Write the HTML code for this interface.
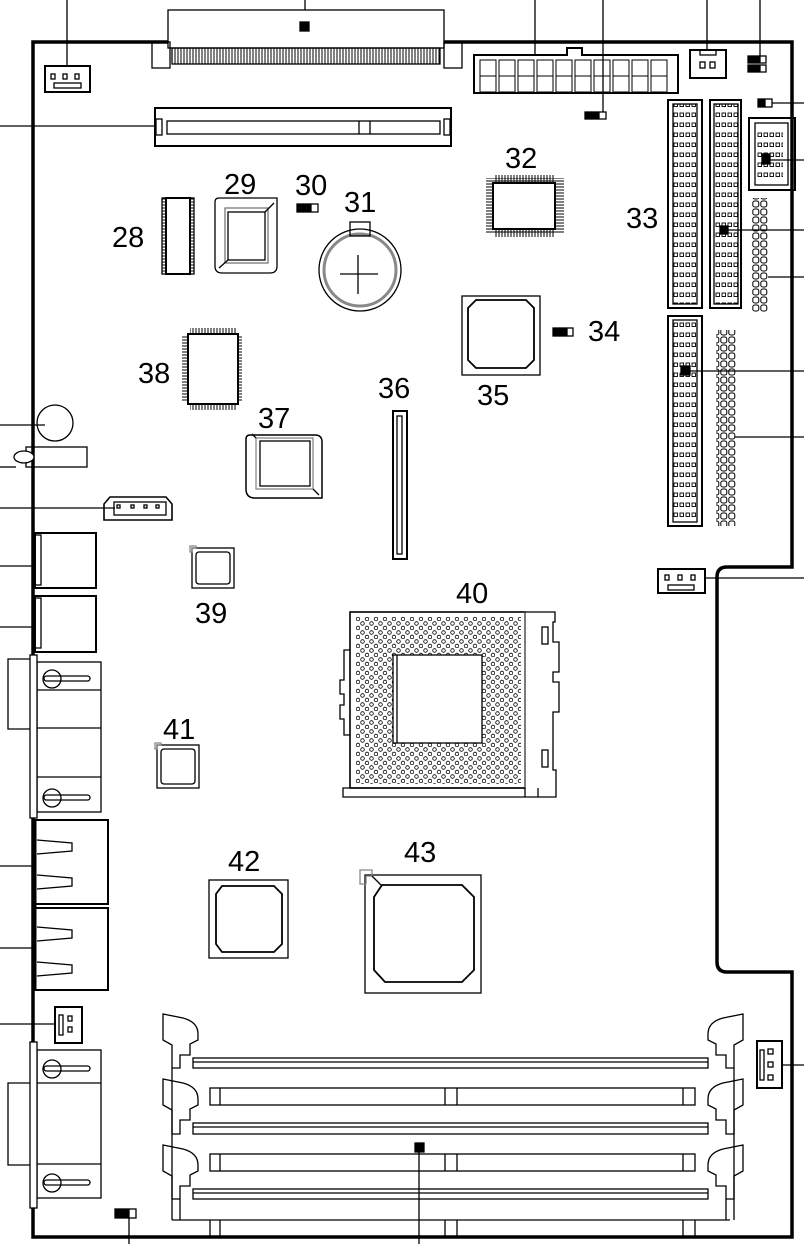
<!DOCTYPE html>
<html><head><meta charset="utf-8"><style>
html,body{margin:0;padding:0;background:#fff}
svg{display:block}
text{font-family:"Liberation Sans",sans-serif;font-size:29px;fill:#000}
</style></head><body>
<svg width="804" height="1244" viewBox="0 0 804 1244" xmlns="http://www.w3.org/2000/svg">
<defs>
<pattern id="pins" x="0" y="0" width="9" height="9" patternUnits="userSpaceOnUse">
<circle cx="2.5" cy="2.5" r="1.8" fill="none" stroke="#000" stroke-width="0.8"/>
<circle cx="7" cy="7" r="1.8" fill="none" stroke="#000" stroke-width="0.8"/>
</pattern>
<pattern id="ide" x="0" y="0" width="12" height="10" patternUnits="userSpaceOnUse">
<rect x="2" y="3" width="3.5" height="3.5" fill="none" stroke="#000" stroke-width="0.9"/>
<rect x="8" y="3" width="3.5" height="3.5" fill="none" stroke="#000" stroke-width="0.9"/>
</pattern>
<pattern id="hdr" x="0" y="0" width="8" height="8" patternUnits="userSpaceOnUse">
<rect x="0.8" y="1" width="6" height="6" rx="2" fill="none" stroke="#000" stroke-width="1"/>
</pattern>
<pattern id="teeth" x="0" y="0" width="3" height="10" patternUnits="userSpaceOnUse">
<line x1="1" y1="0" x2="1" y2="10" stroke="#000" stroke-width="1"/>
</pattern>
<pattern id="qfpv" x="0" y="0" width="10" height="3" patternUnits="userSpaceOnUse">
<line x1="0" y1="1" x2="10" y2="1" stroke="#000" stroke-width="1"/>
</pattern>
</defs>
<g fill="none" stroke="#000" stroke-width="1.3">
<!-- board outline -->
<path d="M792,42 H33 V1237 H792 V972 H727 Q717,972 717,962 V577 Q717,567 727,567 H792 Z" stroke-width="3.5"/>

<!-- callout lines -->
<line x1="67" y1="0" x2="67" y2="66"/>
<line x1="305" y1="0" x2="305" y2="28"/>
<line x1="535" y1="0" x2="535" y2="55"/>
<line x1="603" y1="0" x2="603" y2="112"/>
<line x1="707" y1="0" x2="707" y2="50"/>
<line x1="760" y1="0" x2="760" y2="56"/>
<line x1="0" y1="126" x2="155" y2="126"/>
<line x1="772" y1="103" x2="804" y2="103"/>
<line x1="766" y1="160" x2="804" y2="160"/>
<line x1="725" y1="230" x2="804" y2="230"/>
<line x1="768" y1="277" x2="804" y2="277"/>
<line x1="686" y1="371" x2="804" y2="371"/>
<line x1="735" y1="437" x2="804" y2="437"/>
<line x1="705" y1="578" x2="804" y2="578"/>
<line x1="0" y1="425" x2="45" y2="425"/>
<line x1="0" y1="467" x2="16" y2="467"/>
<line x1="0" y1="508" x2="115" y2="508"/>
<line x1="0" y1="566" x2="35" y2="566"/>
<line x1="0" y1="627" x2="35" y2="627"/>
<line x1="0" y1="866" x2="35" y2="866"/>
<line x1="0" y1="948" x2="35" y2="948"/>
<line x1="0" y1="1024" x2="55" y2="1024"/>
<line x1="782" y1="1065" x2="804" y2="1065"/>
<line x1="129" y1="1218" x2="129" y2="1244"/>
<line x1="419" y1="1148" x2="419" y2="1244"/>

<!-- top-left fan -->
<rect x="45" y="66" width="45" height="26" stroke-width="2"/>
<rect x="54" y="83" width="27" height="5"/>
<rect x="51" y="74" width="4" height="5"/><rect x="63" y="74" width="4" height="5"/><rect x="75" y="74" width="4" height="5"/>

<!-- top slot connector -->
<rect x="168" y="10" width="276" height="38" fill="#fff"/>
<rect x="172" y="48" width="268" height="16" fill="url(#teeth)"/>
<rect x="152" y="42" width="18" height="26"/>
<rect x="444" y="42" width="18" height="26"/>
<rect x="300" y="22" width="9" height="9" fill="#000"/>

<!-- ATX power -->
<path d="M474,55 H567 V48 H582 V55 H678 V93 H474 Z" stroke-width="2"/>
<g stroke-width="1">
<rect x="480" y="60" width="16" height="16"/><rect x="499" y="60" width="16" height="16"/><rect x="518" y="60" width="16" height="16"/><rect x="537" y="60" width="16" height="16"/><rect x="556" y="60" width="16" height="16"/><rect x="575" y="60" width="16" height="16"/><rect x="594" y="60" width="16" height="16"/><rect x="613" y="60" width="16" height="16"/><rect x="632" y="60" width="16" height="16"/><rect x="651" y="60" width="16" height="16"/>
<rect x="480" y="76" width="16" height="16"/><rect x="499" y="76" width="16" height="16"/><rect x="518" y="76" width="16" height="16"/><rect x="537" y="76" width="16" height="16"/><rect x="556" y="76" width="16" height="16"/><rect x="575" y="76" width="16" height="16"/><rect x="594" y="76" width="16" height="16"/><rect x="613" y="76" width="16" height="16"/><rect x="632" y="76" width="16" height="16"/><rect x="651" y="76" width="16" height="16"/>
</g>
<!-- 2 pin -->
<rect x="690" y="50" width="36" height="28" stroke-width="2"/>
<rect x="700" y="50" width="16" height="5"/>
<rect x="700" y="62" width="5" height="6"/><rect x="710" y="62" width="5" height="6"/>
<!-- 2x3 jumper -->
<rect x="748" y="56" width="5" height="7" fill="#000"/><rect x="754" y="56" width="5" height="7" fill="#000"/><rect x="760" y="56" width="6" height="7"/>
<rect x="748" y="65" width="5" height="7" fill="#000"/><rect x="754" y="65" width="5" height="7" fill="#000"/><rect x="760" y="65" width="6" height="7"/>
<!-- jumper near power -->
<rect x="585" y="112" width="6" height="7" fill="#000"/><rect x="592" y="112" width="6" height="7" fill="#000"/><rect x="599" y="112" width="7" height="7"/>
<!-- jumper right -->
<rect x="758" y="99" width="6" height="8" fill="#000"/><rect x="765" y="99" width="7" height="8"/>

<!-- PCI slot -->
<rect x="155" y="108" width="296" height="38" stroke-width="2"/>
<rect x="167" y="121" width="273" height="13"/>
<line x1="359" y1="121" x2="359" y2="134"/><line x1="370" y1="121" x2="370" y2="134"/>
<rect x="156" y="119" width="6" height="16"/><rect x="444" y="119" width="6" height="16"/>

<!-- chip 28 -->
<rect x="162" y="198" width="32" height="76" fill="url(#qfpv)"/>
<rect x="166" y="198" width="24" height="76" fill="#fff" stroke-width="2"/>
<!-- chip 29 -->
<path d="M219,198 H277 V266 Q277,273 270,273 H222 Q215,273 215,266 V202 Q215,198 219,198 Z"/>
<rect x="228" y="212" width="37" height="48"/><rect x="225" y="208" width="43" height="55" stroke="#777"/>
<line x1="265" y1="212" x2="274" y2="203"/><line x1="228" y1="260" x2="219" y2="268"/>
<!-- 30 jumper -->
<rect x="297" y="204" width="6" height="8" fill="#000"/><rect x="304" y="204" width="6" height="8" fill="#000"/><rect x="311" y="204" width="7" height="8"/>
<!-- 31 battery -->
<circle cx="360" cy="270" r="41"/>
<circle cx="360" cy="270" r="36" stroke="#888" stroke-width="3"/>
<rect x="350" y="222" width="20" height="14"/>
<line x1="340" y1="274" x2="378" y2="274"/><line x1="358" y1="255" x2="358" y2="294"/>
<!-- 32 chip -->
<rect x="486" y="178" width="78" height="56" fill="url(#qfpv)" stroke="none"/>
<rect x="494" y="175" width="60" height="62" fill="url(#teeth)" stroke="none"/>
<rect x="493" y="183" width="62" height="46" fill="#fff" stroke-width="2"/>
<!-- 33 IDE -->
<rect x="668" y="100" width="34" height="208" stroke-width="2"/>
<rect x="673" y="104" width="24" height="200" fill="url(#ide)"/>
<rect x="710" y="100" width="31" height="208" stroke-width="2"/>
<rect x="714" y="104" width="24" height="200" fill="url(#ide)"/>
<rect x="720" y="226" width="8" height="8" fill="#000"/>
<!-- 10 pin header -->
<rect x="749" y="118" width="46" height="72" stroke-width="2"/>
<rect x="755" y="123" width="33" height="62"/>
<rect x="757" y="128" width="26" height="50" fill="url(#ide)" stroke="none"/>
<rect x="762" y="154" width="8" height="10" fill="#000"/>
<!-- pin header -->
<rect x="752" y="198" width="16" height="114" fill="url(#hdr)" stroke="none"/>
<!-- 35 -->
<rect x="462" y="296" width="78" height="79"/>
<path d="M476,300 H526 L534,308 V360 L526,368 H476 L468,360 V308 Z" stroke-width="1.8"/>
<!-- 34 jumper -->
<rect x="553" y="328" width="6" height="8" fill="#000"/><rect x="560" y="328" width="6" height="8" fill="#000"/><rect x="567" y="328" width="6" height="8"/>
<!-- 38 -->
<rect x="182" y="336" width="60" height="66" fill="url(#qfpv)" stroke="none"/>
<rect x="190" y="328" width="46" height="82" fill="url(#teeth)" stroke="none"/>
<rect x="188" y="334" width="50" height="70" fill="#fff" stroke-width="2"/>
<!-- 36 slot -->
<rect x="393" y="411" width="14" height="148" stroke-width="2"/>
<rect x="397" y="416" width="5" height="138"/>
<!-- 37 -->
<path d="M250,435 H315 Q322,435 322,442 V498 H255 Q246,498 246,489 V439 Q246,435 250,435 Z" stroke-width="1.5"/>
<rect x="260" y="441" width="50" height="45"/><rect x="256" y="438" width="57" height="51" stroke="#888"/>
<line x1="256" y1="438" x2="252" y2="434"/><line x1="313" y1="489" x2="319" y2="495"/>
<!-- buzzer, LED -->
<circle cx="55" cy="423" r="18"/>
<rect x="26" y="447" width="61" height="20"/>
<ellipse cx="24" cy="457" rx="10" ry="6" fill="#fff"/>
<!-- 4 pin -->
<path d="M110,497 H166 L172,504 V520 H104 V504 Z" stroke-width="1.6"/>
<rect x="114" y="502" width="52" height="13"/>
<rect x="117" y="505" width="3" height="3"/><rect x="131" y="505" width="3" height="3"/><rect x="144" y="505" width="3" height="3"/><rect x="156" y="505" width="3" height="3"/>
<!-- USB/LAN -->
<rect x="35" y="533" width="61" height="55" stroke-width="2"/><rect x="35" y="535" width="6" height="50"/>
<rect x="35" y="596" width="61" height="56" stroke-width="2"/><rect x="35" y="598" width="6" height="50"/>
<!-- VGA -->
<rect x="37" y="662" width="64" height="150"/>
<line x1="37" y1="690" x2="101" y2="690"/><line x1="37" y1="728" x2="101" y2="728"/><line x1="37" y1="777" x2="101" y2="777"/>
<path d="M30,659 H8 V729 H30" />
<rect x="30" y="655" width="7" height="163" fill="#fff"/>
<circle cx="52" cy="679" r="9"/><rect x="44" y="676" width="46" height="5" rx="2.5"/>
<circle cx="52" cy="798" r="9"/><rect x="44" y="795" width="46" height="5" rx="2.5"/>
<!-- 39 -->
<rect x="192" y="548" width="42" height="40"/><rect x="196" y="552" width="34" height="32" rx="3"/>
<path d="M190,546 h6 v2 h-4 v4 h-2 Z" stroke="#888"/>
<!-- 40 socket -->
<rect x="350" y="612" width="175" height="176" stroke-width="1.6"/>
<rect x="356" y="617" width="165" height="167" fill="url(#pins)" stroke="none"/>
<rect x="393" y="655" width="89" height="88" fill="#fff"/>
<line x1="397" y1="655" x2="397" y2="743"/>
<line x1="525" y1="612" x2="525" y2="788" stroke="#888"/>
<path d="M525,612 H555 V622 H553 V642 H559 V672 H553 V682 H559 V712 H553 V770 H556 V797 H343 V788 H525"/>
<line x1="525" y1="788" x2="525" y2="797"/><line x1="538" y1="788" x2="538" y2="797"/>
<rect x="542" y="627" width="6" height="17"/><rect x="542" y="750" width="6" height="17"/>
<path d="M350,650 H344 V680 H340 V694 H344 V705 H340 V719 H344 V735 H350"/>
<!-- 41 -->
<rect x="157" y="745" width="42" height="43"/><rect x="161" y="749" width="34" height="35" rx="3"/>
<path d="M155,743 h6 v2 h-4 v4 h-2 Z" stroke="#888"/>
<!-- 42 -->
<rect x="209" y="880" width="79" height="78"/>
<path d="M222,886 H274 L282,894 V944 L274,952 H222 L216,944 V894 Z" stroke-width="1.8"/>
<!-- 43 -->
<rect x="365" y="875" width="116" height="118"/>
<path d="M382,885 H462 L474,897 V970 L462,982 H385 L374,970 V897 Z" stroke-width="1.8"/>
<path d="M360,870 h12 v6 h-6 v8 h-6 Z" stroke="#888"/>
<line x1="372" y1="876" x2="382" y2="886"/>
<!-- USB -->
<rect x="35" y="820" width="73" height="84" stroke-width="2"/>
<path d="M37,840 L72,843 V851 L37,854"/><path d="M37,875 L72,878 V886 L37,889"/>
<rect x="35" y="908" width="73" height="82" stroke-width="2"/>
<path d="M37,927 L72,930 V938 L37,941"/><path d="M37,962 L72,965 V973 L37,976"/>
<line x1="35" y1="820" x2="35" y2="990" stroke-width="3"/>
<!-- 2pin left bottom -->
<rect x="55" y="1007" width="27" height="36" stroke-width="2"/>
<rect x="59" y="1015" width="4" height="20"/><rect x="68" y="1016" width="4" height="5"/><rect x="68" y="1027" width="4" height="5"/>
<!-- serial 2 -->
<rect x="37" y="1050" width="64" height="148"/>
<line x1="37" y1="1083" x2="101" y2="1083"/><line x1="37" y1="1164" x2="101" y2="1164"/>
<path d="M30,1083 H8 V1165 H30"/>
<rect x="30" y="1042" width="7" height="166" fill="#fff"/>
<circle cx="52" cy="1069" r="9"/><rect x="44" y="1066" width="46" height="5" rx="2.5"/>
<circle cx="52" cy="1183" r="9"/><rect x="44" y="1180" width="46" height="5" rx="2.5"/>
<!-- jumper bottom -->
<rect x="115" y="1209" width="6" height="9" fill="#000"/><rect x="122" y="1209" width="6" height="9" fill="#000"/><rect x="129" y="1209" width="7" height="9"/>
<!-- DIMMs -->
<g>
<rect x="193" y="1058" width="515" height="10"/><line x1="193" y1="1062" x2="708" y2="1062"/>
<rect x="210" y="1088" width="485" height="17"/><line x1="220" y1="1088" x2="220" y2="1105"/><line x1="445" y1="1088" x2="445" y2="1105"/><line x1="457" y1="1088" x2="457" y2="1105"/><line x1="683" y1="1088" x2="683" y2="1105"/>
<rect x="193" y="1123" width="515" height="11"/><line x1="193" y1="1127" x2="708" y2="1127"/>
<rect x="210" y="1154" width="485" height="17"/><line x1="220" y1="1154" x2="220" y2="1171"/><line x1="445" y1="1154" x2="445" y2="1171"/><line x1="457" y1="1154" x2="457" y2="1171"/><line x1="683" y1="1154" x2="683" y2="1171"/>
<rect x="193" y="1189" width="515" height="10"/><line x1="193" y1="1193" x2="708" y2="1193"/>
<line x1="172" y1="1220" x2="730" y2="1220"/>
<line x1="210" y1="1220" x2="210" y2="1237"/><line x1="220" y1="1220" x2="220" y2="1237"/><line x1="445" y1="1220" x2="445" y2="1237"/><line x1="457" y1="1220" x2="457" y2="1237"/><line x1="683" y1="1220" x2="683" y2="1237"/><line x1="695" y1="1220" x2="695" y2="1237"/>
<path d="M163,1014 L183,1018 Q198,1022 198,1034 V1040 L190,1044 V1055 L180,1055 V1068 L172,1068 L172,1045 L163,1040 Z"/>
<path d="M163,1079 L183,1083 Q198,1087 198,1099 V1105 L190,1109 V1120 L180,1120 V1134 L172,1134 L172,1110 L163,1105 Z"/>
<path d="M163,1145 L183,1149 Q198,1153 198,1165 V1171 L190,1175 V1186 L180,1186 V1199 L172,1199 L172,1176 L163,1171 Z"/>
<line x1="172" y1="1068" x2="172" y2="1220"/><line x1="180" y1="1199" x2="180" y2="1220"/>
<path d="M743,1014 L723,1018 Q708,1022 708,1034 V1040 L716,1044 V1055 L726,1055 V1068 L734,1068 L734,1045 L743,1040 Z"/>
<path d="M743,1079 L723,1083 Q708,1087 708,1099 V1105 L716,1109 V1120 L726,1120 V1134 L734,1134 L734,1110 L743,1105 Z"/>
<path d="M743,1145 L723,1149 Q708,1153 708,1165 V1171 L716,1175 V1186 L726,1186 V1199 L734,1199 L734,1176 L743,1171 Z"/>
<line x1="734" y1="1068" x2="734" y2="1220"/><line x1="726" y1="1199" x2="726" y2="1220"/>
</g>
<rect x="415" y="1143" width="9" height="9" fill="#000"/>
<!-- right 3-pin -->
<rect x="757" y="1041" width="25" height="47" stroke-width="2"/>
<rect x="760" y="1050" width="4" height="30"/>
<rect x="768" y="1049" width="5" height="5"/><rect x="768" y="1062" width="5" height="5"/><rect x="768" y="1075" width="5" height="5"/>
<!-- lower IDE + header -->
<rect x="668" y="316" width="34" height="210" stroke-width="2"/>
<rect x="673" y="320" width="24" height="202" fill="url(#ide)"/>
<rect x="681" y="366" width="9" height="9" fill="#000"/>
<rect x="716" y="330" width="20" height="196" fill="url(#hdr)" stroke="none"/>
<!-- fan right -->
<rect x="658" y="569" width="47" height="24" stroke-width="2"/>
<rect x="668" y="585" width="26" height="5"/>
<rect x="665" y="575" width="4" height="5"/><rect x="678" y="575" width="4" height="5"/><rect x="691" y="575" width="4" height="5"/>
</g>
<g>
<text x="112" y="247">28</text>
<text x="224" y="194">29</text>
<text x="295" y="195">30</text>
<text x="344" y="212">31</text>
<text x="505" y="168">32</text>
<text x="626" y="228">33</text>
<text x="588" y="341">34</text>
<text x="477" y="405">35</text>
<text x="378" y="398">36</text>
<text x="258" y="428">37</text>
<text x="138" y="383">38</text>
<text x="195" y="623">39</text>
<text x="456" y="603">40</text>
<text x="163" y="739">41</text>
<text x="228" y="871">42</text>
<text x="404" y="862">43</text>
</g>
</svg>
</body></html>
